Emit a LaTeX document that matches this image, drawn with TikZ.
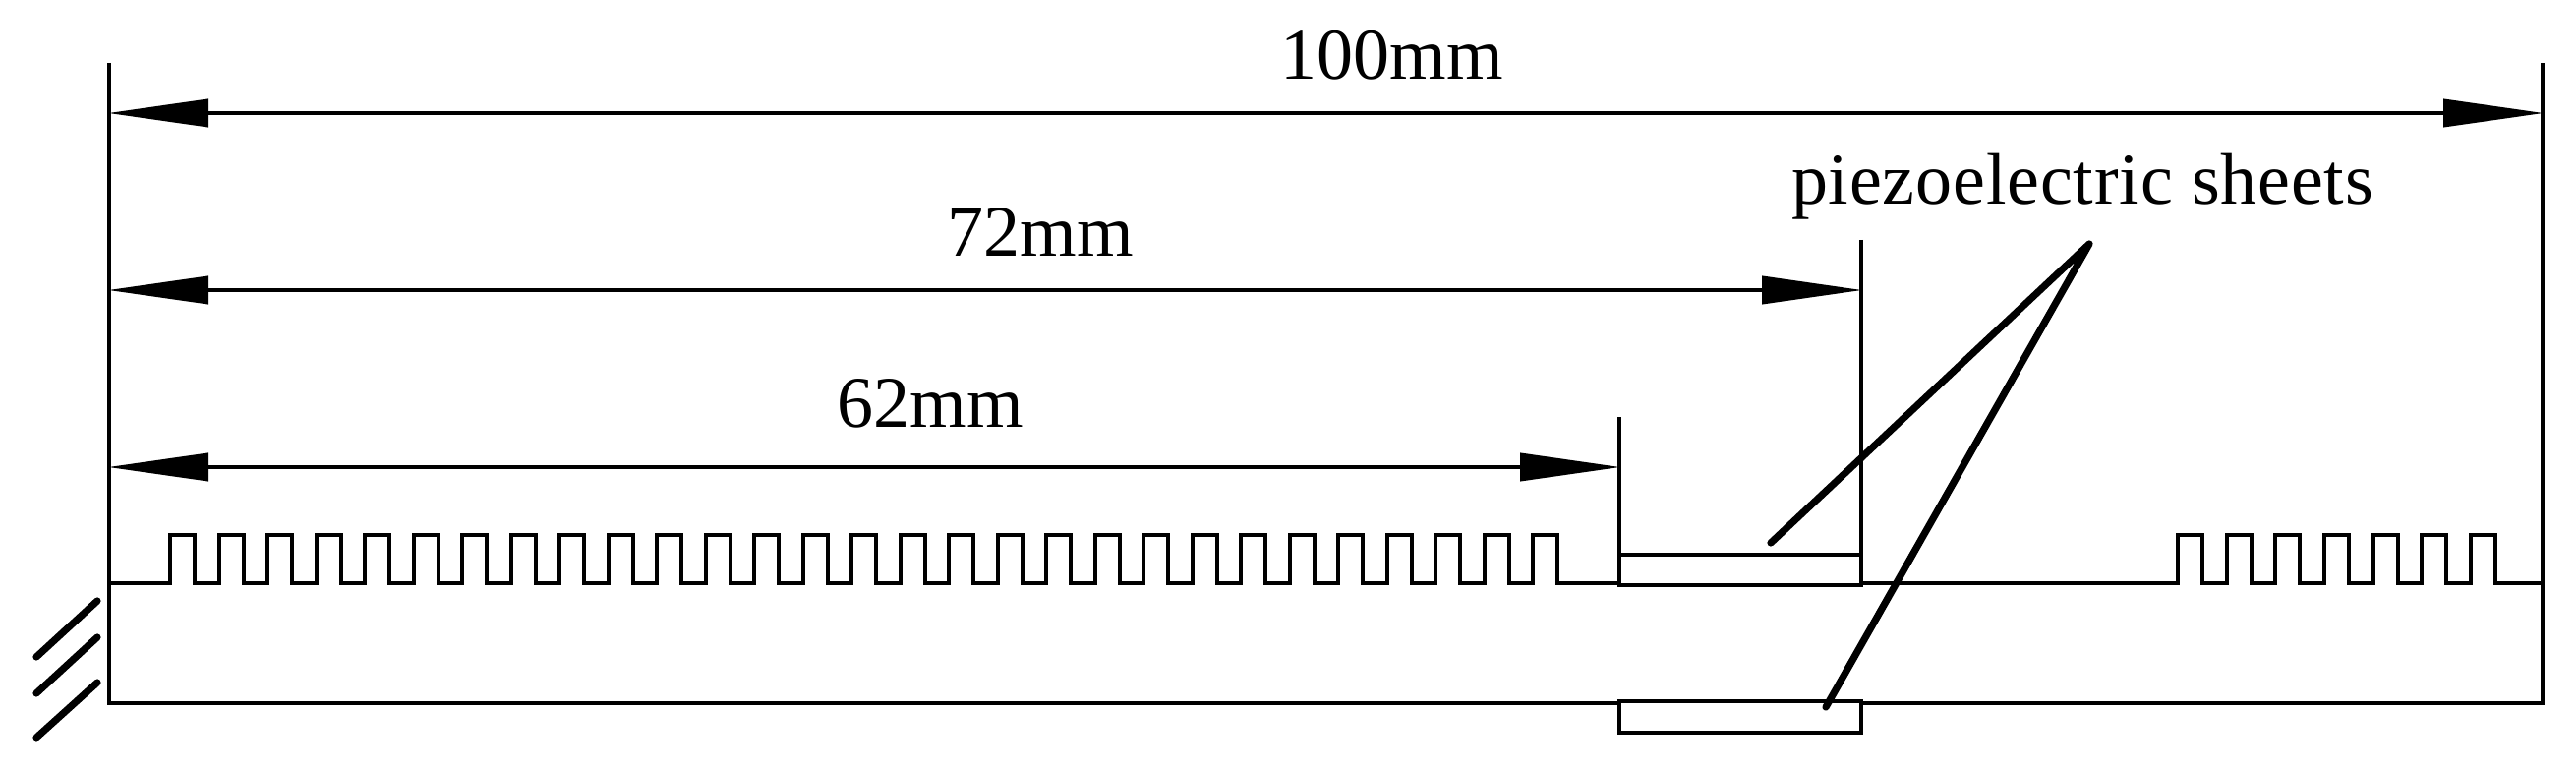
\documentclass[tikz,border=0pt]{standalone}
\usepackage{fontspec}
\setmainfont{Liberation Serif}
\usetikzlibrary{arrows.meta}
\tikzset{
  lbl/.style={inner sep=0pt,anchor=base,font=\fontsize{37}{37}\selectfont},
  thin line/.style={draw=black,line width=2pt,line join=miter},
  dim/.style={thin line,{Triangle[length=51pt,width=14pt]}-{Triangle[length=51pt,width=14pt]}},
  heavy/.style={draw=black,line width=3.6pt,line cap=round},
}
\begin{document}
\begin{tikzpicture}[x=0.5pt,y=-0.5pt]
\useasboundingbox (0,0) rectangle (2620,786);
% reference points
\coordinate (lt) at (111,64);
\coordinate (lb) at (111,715);
\coordinate (rt) at (2586,64);
\coordinate (rb) at (2586,715);
\coordinate (l100) at (110,115);
\coordinate (r100) at (2587,115);
\coordinate (l72) at (110,295);
\coordinate (r72) at (1894,295);
\coordinate (l62) at (110,475);
\coordinate (r62) at (1648,475);
\coordinate (e72t) at (1893,244);
\coordinate (e72b) at (1893,595);
\coordinate (e62t) at (1647,424);
\coordinate (e62b) at (1647,595);
\coordinate (sheetTa) at (1647,564);
\coordinate (sheetTb) at (1893,595);
\coordinate (sheetBa) at (1647,713);
\coordinate (sheetBb) at (1893,745);
\coordinate (apex) at (2125,248);
\coordinate (leadT) at (1801,552);
\coordinate (leadB) at (1857,719);
\coordinate (combL0) at (111,593);
\coordinate (combL1) at (1647,593);
\coordinate (combR0) at (1893,593);
\coordinate (combR1) at (2586,593);
\coordinate (botL) at (1647,715);
\coordinate (botR) at (1893,715);
% frame
\draw[thin line] (lt) -- (lb) -- (botL);
\draw[thin line] (botR) -- (rb) -- (rt);
% comb beams
\draw[thin line] (combL0)
  \foreach \i [evaluate=\i as \x using 173+49.5*\i] in {0,...,28} { -- (\x,593) -- (\x,544) -- (\x+25,544) -- (\x+25,593) }
  -- (combL1);
\draw[thin line] (combR0)
  \foreach \i [evaluate=\i as \x using 2215+49.67*\i] in {0,...,6} { -- (\x,593) -- (\x,544) -- (\x+25,544) -- (\x+25,593) }
  -- (combR1);
% extension lines
\draw[thin line] (e72t) -- (e72b);
\draw[thin line] (e62t) -- (e62b);
% sheets
\draw[thin line] (sheetTa) rectangle (sheetTb);
\draw[thin line] (sheetBa) rectangle (sheetBb);
% dimensions
\draw[dim] (l100) -- (r100);
\draw[dim] (l72) -- (r72);
\draw[dim] (l62) -- (r62);
% leaders
\draw[heavy,line join=round] (leadT) -- (apex) -- (leadB);
% wall hatching
\coordinate (h1a) at (37,668); \coordinate (h1b) at (99,611);
\coordinate (h2a) at (37,705); \coordinate (h2b) at (99,648);
\coordinate (h3a) at (37,750); \coordinate (h3b) at (99,694);
\draw[heavy] (h1a) -- (h1b);
\draw[heavy] (h2a) -- (h2b);
\draw[heavy] (h3a) -- (h3b);
% labels
\node[lbl] (t100) at (1416,81) {100mm};
\node[lbl] (t72) at (1058,261) {72mm};
\node[lbl] (t62) at (946,434) {62mm};
\node[lbl] (tp) at (2118,208) {\addfontfeature{LetterSpace=1.1}piezoelectric sheets};
\end{tikzpicture}
\end{document}
